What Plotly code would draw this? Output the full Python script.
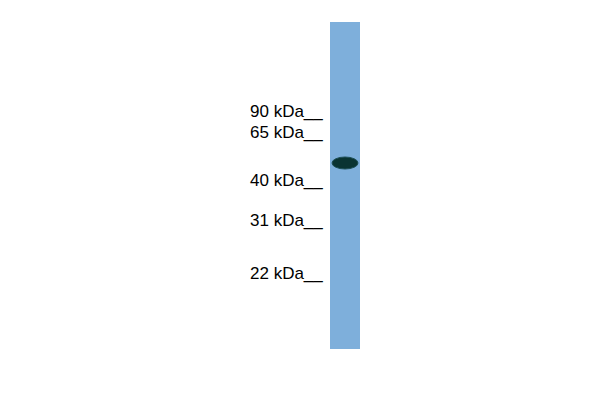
import plotly.graph_objects as go

# marker ladder (kDa) and where each one sits along the lane (pixels from top)
marker_kda = [90, 65, 40, 31, 22]
marker_pos = [111, 132, 180, 220, 273]

# detected band
band_pos = [163]
band_lane = [345]

lane_top = 22
lane_bottom = 349
lane_x = 345

fig = go.Figure()

# the lane
fig.add_trace(go.Bar(
    x=[lane_x], y=[lane_bottom - lane_top], base=[lane_top],
    width=30, marker_color='#7EAFDB', marker_line_width=0,
    hoverinfo='skip'
))

# band as an ellipse
for bx, by in zip(band_lane, band_pos):
    fig.add_shape(type='circle', xref='x', yref='y',
                  x0=bx - 13, x1=bx + 13, y0=by - 6, y1=by + 6,
                  fillcolor='#0A3432', line=dict(color='#1E5057', width=1))

# marker labels
for kda, pos in zip(marker_kda, marker_pos):
    fig.add_annotation(x=325, y=pos, xref='x', yref='y',
                       text=f'{kda} kDa__', showarrow=False,
                       xanchor='right', yanchor='middle',
                       font=dict(family='Liberation Sans, Arial', size=17, color='black'))

# page has an 8px body margin, so shift the ranges to line up with pixels
fig.update_layout(
    width=600, height=400,
    margin=dict(l=0, r=0, t=0, b=0),
    paper_bgcolor='white', plot_bgcolor='white',
    showlegend=False,
    xaxis=dict(range=[8, 608], visible=False, fixedrange=True),
    yaxis=dict(range=[408, 8], visible=False, fixedrange=True),
)

fig.write_html('out.html')
